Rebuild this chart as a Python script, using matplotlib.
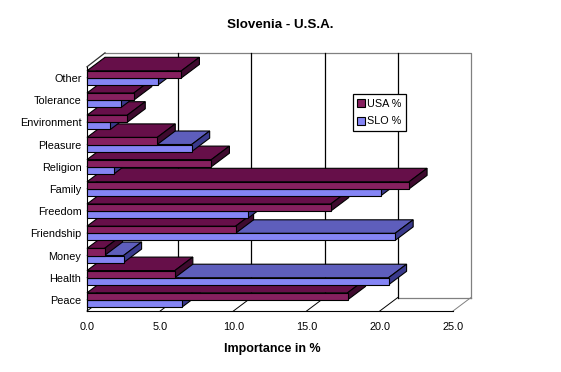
import matplotlib
matplotlib.use("Agg")
import matplotlib.pyplot as plt
from matplotlib.patches import Patch

plt.rcParams['font.family'] = ['Liberation Sans', 'DejaVu Sans']

# bottom to top, as on the chart
categories = ["Peace", "Health", "Money", "Friendship", "Freedom", "Family",
              "Religion", "Pleasure", "Environment", "Tolerance", "Other"]
usa_values = [17.8, 6.0, 1.2, 10.15, 16.65, 22.0, 8.5, 4.8, 2.75, 3.2, 6.45]
slo_values = [6.5, 20.6, 2.5, 21.05, 11.0, 20.05, 1.85, 7.15, 1.6, 2.35, 4.85]
x_ticks = [0, 5, 10, 15, 20, 25]

USA_COLORS = {"front": "#86205F", "top": "#660F49", "side": "#3E0A2E"}
SLO_COLORS = {"front": "#8585F5", "top": "#5E5EBC", "side": "#3A3A8C"}

W, H = 561, 372
LEFT, RIGHT, BOTTOM, TOP = 87, 453, 311, 66.8   # front plane in pixels
PX_X = (RIGHT - LEFT) / 25
PX_Y = (BOTTOM - TOP) / 11
DX = 18 / PX_X    # depth of the 3d box in data units
DY = 13.5 / PX_Y
BAR_H = 7.1 / PX_Y

fig = plt.figure(figsize=(W / 100, H / 100), dpi=100, facecolor="white")
ax = fig.add_axes([LEFT / W, 1 - BOTTOM / H, (RIGHT - LEFT) / W, (BOTTOM - TOP) / H])
ax.set_xlim(0, 25)
ax.set_ylim(-0.5, 10.5)


def bar3d(value, y0, colors, z):
    y1 = y0 + BAR_H
    kw = dict(edgecolor="black", linewidth=0.8, clip_on=False, zorder=z)
    ax.fill([0, DX, value + DX, value], [y1, y1 + DY, y1 + DY, y1], facecolor=colors["top"], **kw)
    ax.fill([value, value + DX, value + DX, value], [y0, y0 + DY, y1 + DY, y1], facecolor=colors["side"], **kw)
    ax.fill([0, value, value, 0], [y0, y0, y1, y1], facecolor=colors["front"], **kw)


# back wall, floor and gridlines
back_bottom = -0.5 + DY
back_top = 10.5 + DY + 0.02
wall = dict(clip_on=False, zorder=1)
ax.plot([DX, 25 + DX, 25 + DX], [back_top, back_top, back_bottom], color="#808080", lw=0.9, **wall)
ax.plot([0, DX], [10.5, back_top], color="#303030", lw=0.9, **wall)
ax.plot([20 + DX, 25 + DX], [back_bottom, back_bottom], color="#808080", lw=0.9, **wall)
for t in x_ticks:
    c = "#808080" if t == 25 else "black"
    ax.plot([t, t + DX], [-0.5, back_bottom], color=c, lw=0.7, **wall)
    if 0 < t < 25:
        ax.plot([t + DX, t + DX], [back_bottom, back_top], color="black", lw=0.9, **wall)

# the upper categories overlap the lower ones here
z = 2
for i in range(len(categories)):
    bar3d(slo_values[i], i - BAR_H, SLO_COLORS, z)
    bar3d(usa_values[i], i, USA_COLORS, z + 1)
    z += 2

for side in ("top", "right"):
    ax.spines[side].set_visible(False)
ax.patch.set_alpha(0)

ax.set_xticks(x_ticks)
ax.set_xticklabels([f"{t:.1f}" for t in x_ticks], fontsize=7.8)
ax.set_yticks(range(len(categories)))
ax.set_yticklabels(categories, fontsize=7.8)
ax.tick_params(axis="both", length=0)
ax.tick_params(axis="x", pad=8)
ax.tick_params(axis="y", pad=4)

fig.text(280 / W, 1 - 25 / H, "Slovenia - U.S.A.", fontsize=9.6, fontweight="bold",
         ha="center", va="center")
fig.text(272 / W, 1 - 349 / H, "Importance in %", fontsize=9, fontweight="bold",
         ha="center", va="center")

handles = [Patch(facecolor=USA_COLORS["front"], edgecolor="black", linewidth=0.8, label="USA %"),
           Patch(facecolor=SLO_COLORS["front"], edgecolor="black", linewidth=0.8, label="SLO %")]
leg = fig.legend(handles=handles, loc="upper left", bbox_to_anchor=(352.5 / W, 1 - 94 / H),
                 bbox_transform=fig.transFigure, fontsize=7.8, fancybox=False,
                 edgecolor="black", framealpha=1, handlelength=0.7, handleheight=0.8,
                 handletextpad=0.2, labelspacing=0.7, borderpad=0.45, borderaxespad=0)
leg.get_frame().set_linewidth(0.9)
leg.set_zorder(50)

fig.savefig("out.png", dpi=100)
